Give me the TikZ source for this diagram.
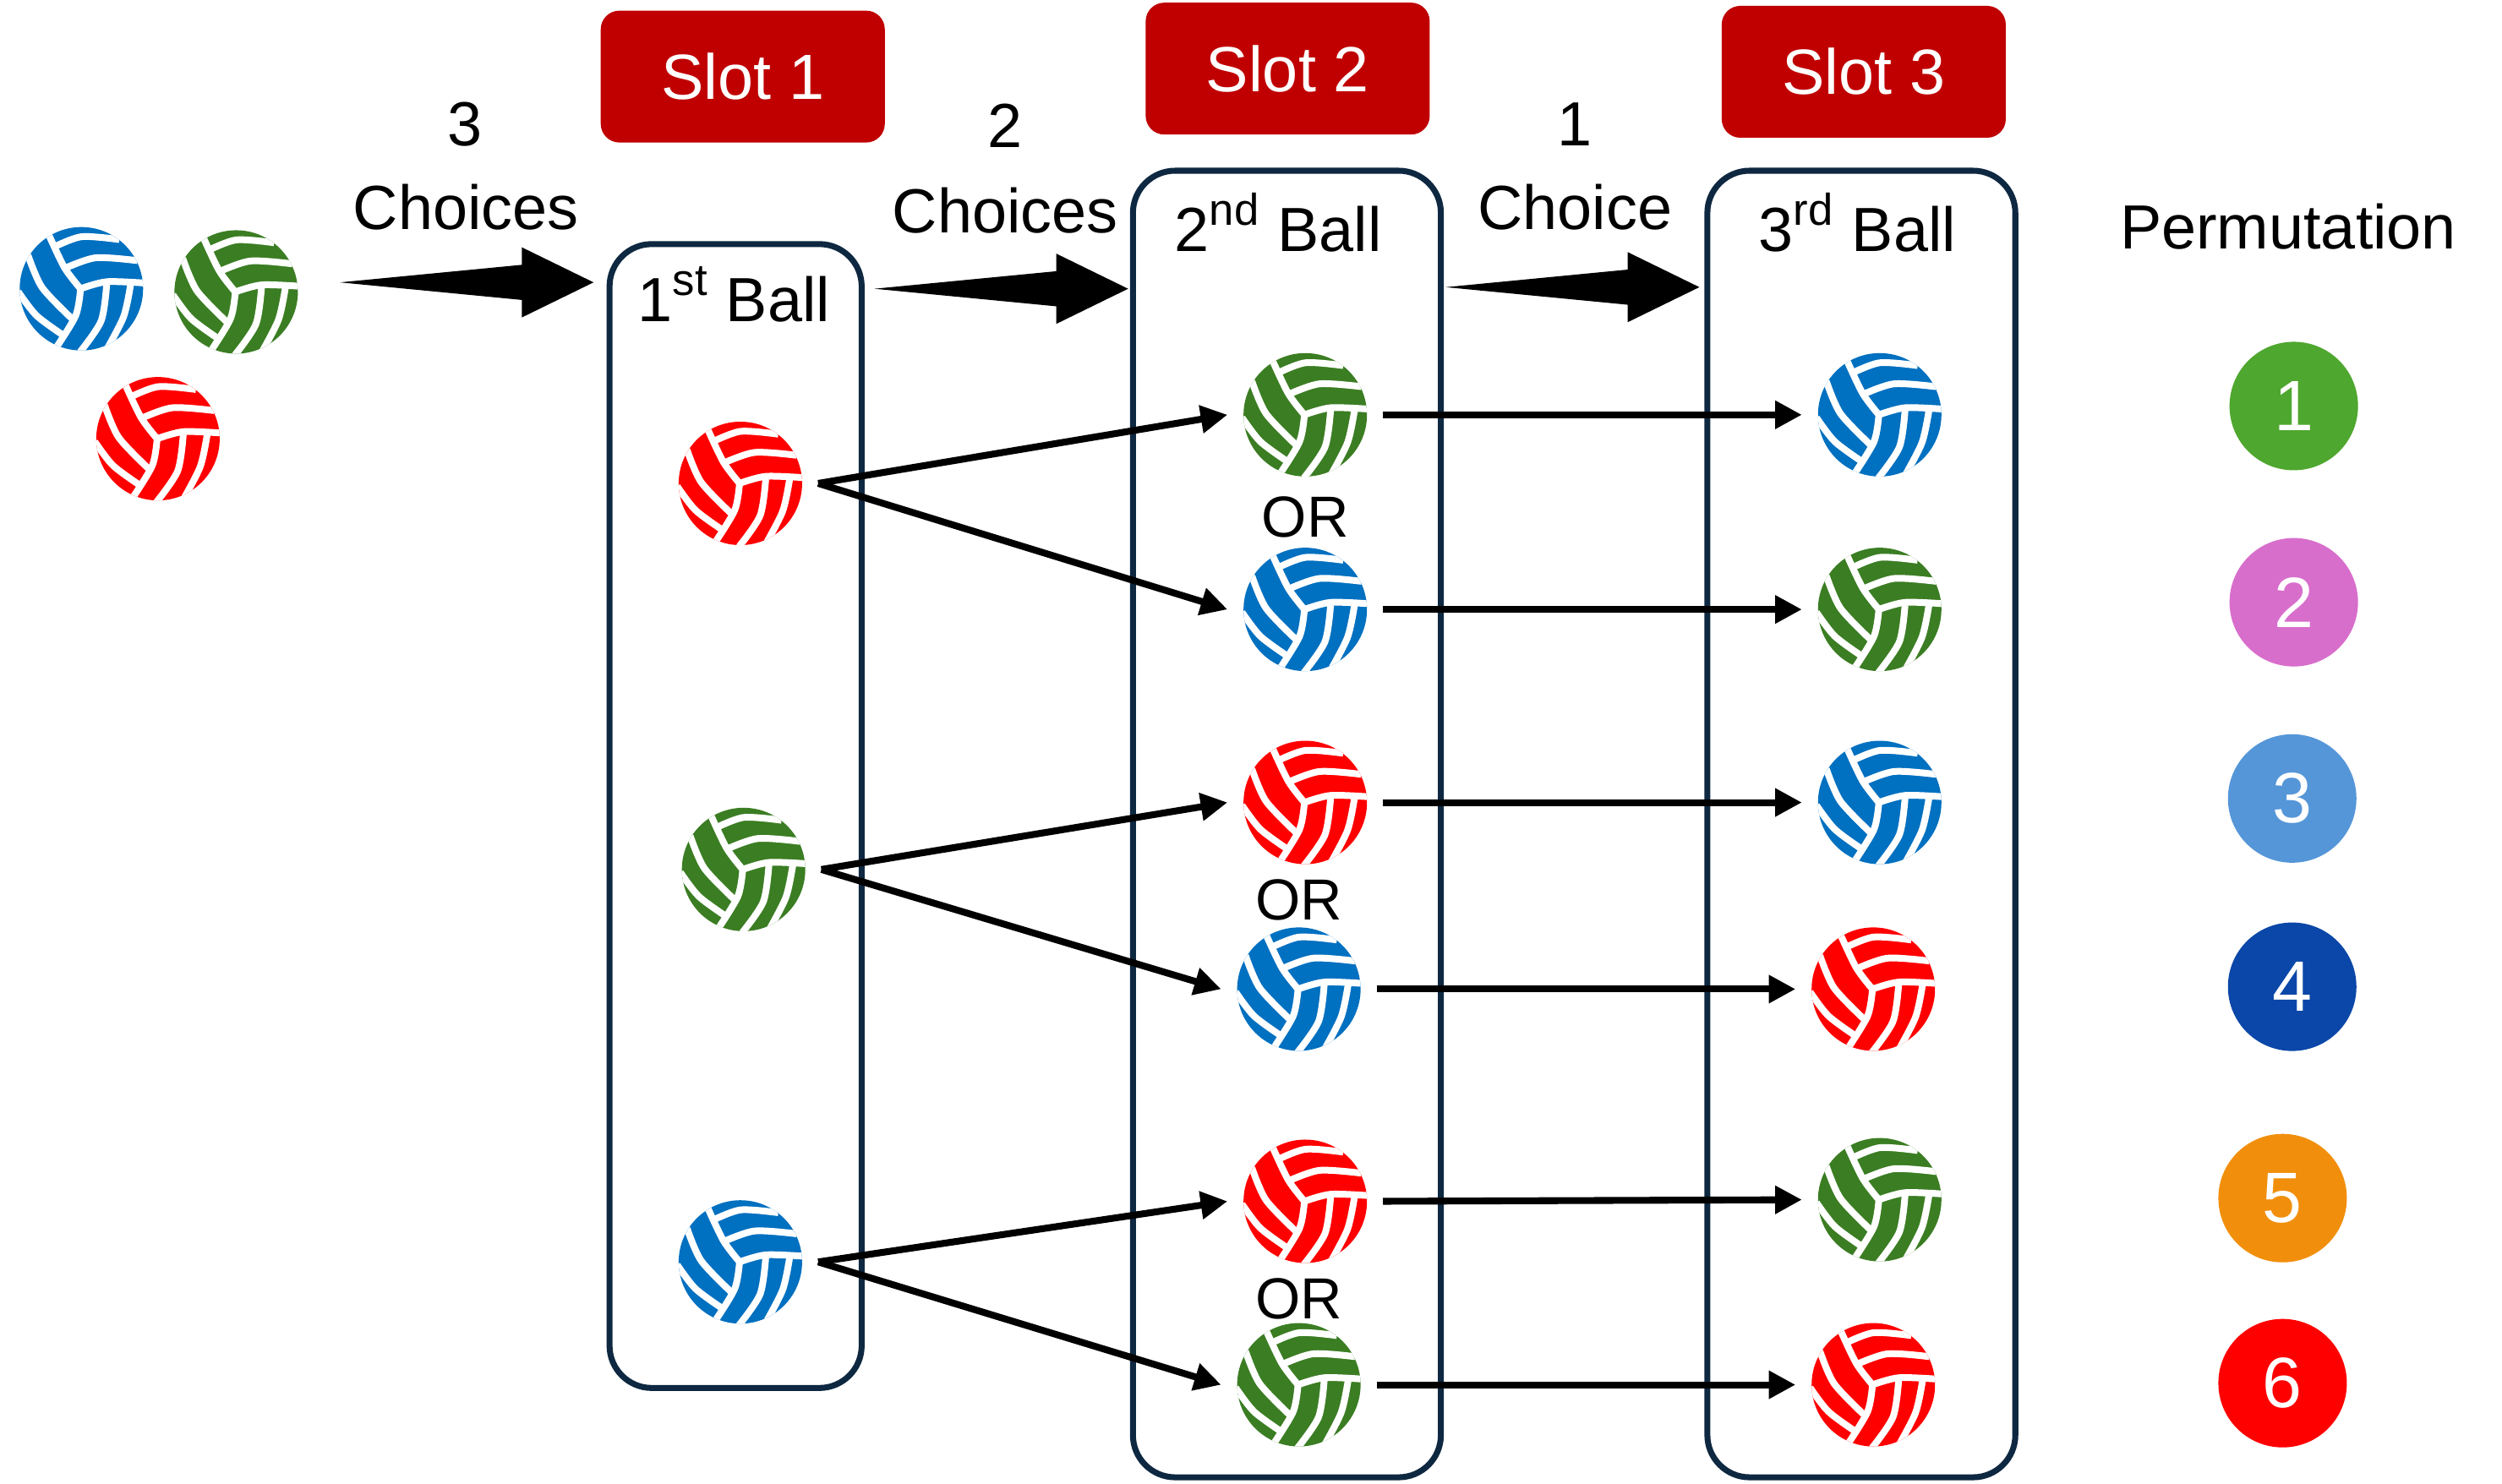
\documentclass[tikz,border=0pt]{standalone}
\usepackage{fontspec}
\setmainfont{Liberation Sans}
\usetikzlibrary{arrows.meta}
\definecolor{ballred}{HTML}{FF0000}
\definecolor{ballgreen}{HTML}{3B7D23}
\definecolor{ballblue}{HTML}{0070C0}
\definecolor{slotred}{HTML}{C00000}
\definecolor{boxline}{HTML}{0E2841}
\definecolor{p1}{HTML}{4EA72E}
\definecolor{p2}{HTML}{D86ECC}
\definecolor{p3}{HTML}{5596D8}
\definecolor{p4}{HTML}{0A47A8}
\definecolor{p5}{HTML}{F18F0D}
\definecolor{p6}{HTML}{FF0000}
\newcommand{\ballseams}{%
  \begin{scope}[shift={(path picture bounding box.center)},x=0.003333cm,y=-0.003333cm,
      draw=white,line width=0.08cm]
    \draw plot[smooth] coordinates {(-3,0) (-60,-75) (-115,-190)};
    \draw plot[smooth] coordinates {(-3,0) (90,-25) (230,-20)};
    \draw plot[smooth] coordinates {(-3,0) (-20,95) (-90,210)};
    \draw plot[smooth] coordinates {(-105,-145) (0,-185) (135,-175)};
    \draw plot[smooth] coordinates {(-65,-70) (50,-110) (200,-100)};
    \draw plot[smooth] coordinates {(90,-15) (70,115) (-5,225)};
    \draw plot[smooth] coordinates {(175,-15) (150,100) (85,225)};
    \draw plot[smooth] coordinates {(-190,-120) (-140,-5) (-35,105)};
    \draw plot[smooth] coordinates {(-225,10) (-160,95) (-65,165)};
  \end{scope}}
\newcommand{\blockarrow}[2]{%
  \fill (#1,#2) -- (#1+114,#2-11) -- (#1+114,#2-22) -- (#1+159,#2)
     -- (#1+114,#2+22) -- (#1+114,#2+11) -- cycle;}
\newcommand{\ordsup}[1]{\raisebox{0.42em}{\fontsize{15}{17}\selectfont #1}\hspace{0.02em}}
\tikzset{
  ball/.style={circle,draw=none,fill=#1,minimum size=1.46cm,inner sep=0pt,
    outer sep=0.19cm,path picture={\ballseams}},
  slotbox/.style={draw=none,fill=slotred,rounded corners=0.22cm,inner sep=0pt,
    minimum width=3.36cm,minimum height=1.56cm,text=white,font=\fontsize{21.5}{25}\selectfont},
  ballbox/.style={draw=boxline,line width=2pt,rounded corners=0.5cm,fill=none},
  label/.style={inner sep=0pt,font=\fontsize{21}{25}\selectfont},
  orlabel/.style={inner sep=0pt,font=\fontsize{19.5}{25}\selectfont},
  permcircle/.style={circle,fill=#1,minimum size=1.52cm,inner sep=0pt,text=white,
    font=\fontsize{24}{28}\selectfont},
  conn/.style={line width=2.3pt,-{Triangle[length=9pt,width=9pt]}},
}
\begin{document}
\begin{tikzpicture}[x=0.018878cm,y=-0.018871cm]
\useasboundingbox (0,0) rectangle (1568,930);
% ball boxes
\draw[ballbox] (382,153) rectangle (540,870);
\draw[ballbox] (710,107) rectangle (903,926);
\draw[ballbox] (1070,107) rectangle (1263,926);
% slots
\node[slotbox] (s1) at (465.5,48) {Slot 1};
\node[slotbox] (s2) at (807,43) {Slot 2};
\node[slotbox] (s3) at (1168,45) {Slot 3};
% labels
\node[label] (n3) at (291.5,78) {3};
\node[label] (c3) at (292,130) {Choices};
\node[label] (n2) at (630,79) {2};
\node[label] (c2) at (630,132) {Choices};
\node[label] (n1) at (987,78) {1};
\node[label] (c1) at (987,130) {Choice};
\node[label] (b1) at (460,184.5) {1\ordsup{st} Ball};
\node[label] (b2) at (801,139.5) {2\ordsup{nd} Ball};
\node[label] (b3) at (1164,139.5) {3\ordsup{rd} Ball};
\node[label] (perm) at (1434,142) {Permutation};
\node[orlabel] (or1) at (818,324) {OR};
\node[orlabel] (or2) at (814,564) {OR};
\node[orlabel] (or3) at (814,814) {OR};
% block arrows
\blockarrow{213}{177}
\blockarrow{548}{181}
\blockarrow{906}{180}
% starting balls
\node[ball=ballblue] (i1) at (51,181) {};
\node[ball=ballgreen] (i2) at (148,183) {};
\node[ball=ballred] (i3) at (99,275) {};
% slot 1
\node[ball=ballred] (a1) at (464,303) {};
\node[ball=ballgreen] (a2) at (466,545) {};
\node[ball=ballblue] (a3) at (464,791) {};
% slot 2
\node[ball=ballgreen] (b21) at (818,260) {};
\node[ball=ballblue] (b22) at (818,382) {};
\node[ball=ballred] (b23) at (818,503) {};
\node[ball=ballblue] (b24) at (814,620) {};
\node[ball=ballred] (b25) at (818,753) {};
\node[ball=ballgreen] (b26) at (814,868) {};
% slot 3
\node[ball=ballblue] (c21) at (1178,260) {};
\node[ball=ballgreen] (c22) at (1178,382) {};
\node[ball=ballblue] (c23) at (1178,503) {};
\node[ball=ballred] (c24) at (1174,620) {};
\node[ball=ballgreen] (c25) at (1178,752) {};
\node[ball=ballred] (c26) at (1174,868) {};
% connectors
\draw[conn] (a1.east) -- (b21.west);
\draw[conn] (a1.east) -- (b22.west);
\draw[conn] (a2.east) -- (b23.west);
\draw[conn] (a2.east) -- (b24.west);
\draw[conn] (a3.east) -- (b25.west);
\draw[conn] (a3.east) -- (b26.west);
\draw[conn] (b21.east) -- (c21.west);
\draw[conn] (b22.east) -- (c22.west);
\draw[conn] (b23.east) -- (c23.west);
\draw[conn] (b24.east) -- (c24.west);
\draw[conn] (b25.east) -- (c25.west);
\draw[conn] (b26.east) -- (c26.west);
% permutation circles
\node[permcircle=p1] (p1n) at (1437.5,254.5) {1};
\node[permcircle=p2] (p2n) at (1437.5,377.5) {2};
\node[permcircle=p3] (p3n) at (1436.5,500.5) {3};
\node[permcircle=p4] (p4n) at (1436.5,618.5) {4};
\node[permcircle=p5] (p5n) at (1430.5,751) {5};
\node[permcircle=p6] (p6n) at (1430.5,867) {6};
\end{tikzpicture}
\end{document}
